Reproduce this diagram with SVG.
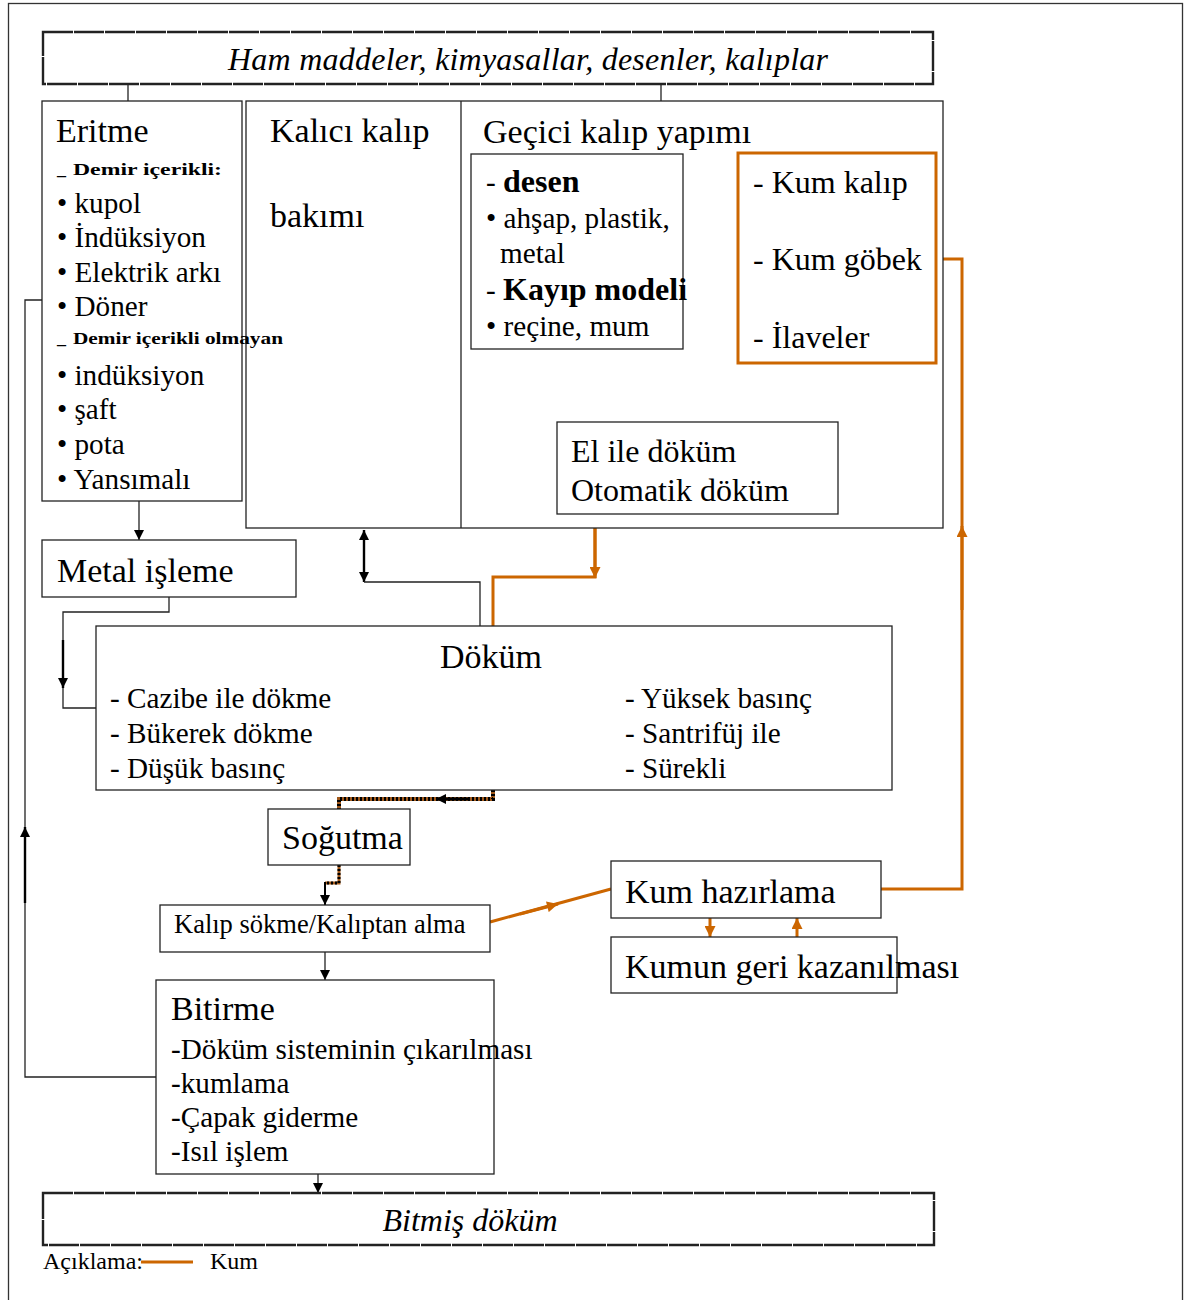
<svg xmlns="http://www.w3.org/2000/svg" width="1185" height="1300" viewBox="0 0 1185 1300">
<defs>
<style>
text{font-family:"Liberation Serif","Times New Roman",serif;fill:#000}
.box{fill:#fff;stroke:#222;stroke-width:1.3}
.ban{fill:#fff;stroke:#222;stroke-width:2.4;stroke-dasharray:30 1}
.ln{fill:none;stroke:#222;stroke-width:1.3}
.thk{fill:none;stroke:#000;stroke-width:2.4}
.or{fill:none;stroke:#CC6600;stroke-width:3}
.t34{font-size:34px}
.t32{font-size:32px}
.t29{font-size:29.2px}
.b{font-weight:bold}
.it{font-style:italic}
</style>
<marker id="ah" viewBox="0 0 10 10" refX="10" refY="5" markerWidth="11" markerHeight="10" markerUnits="userSpaceOnUse" orient="auto-start-reverse"><path d="M0,0 L10,5 L0,10 z" fill="#000"/></marker>
<marker id="ao" viewBox="0 0 10 10" refX="10" refY="5" markerWidth="12" markerHeight="11" markerUnits="userSpaceOnUse" orient="auto-start-reverse"><path d="M0,0 L10,5 L0,10 z" fill="#CC6600"/></marker>
</defs>
<rect x="8.5" y="3.5" width="1174" height="1310" fill="#fff" stroke="#333" stroke-width="1.3"/>

<g id="connectors">
  <line class="ln" x1="128" y1="84" x2="128" y2="101"/>
  <line class="ln" x1="661" y1="84" x2="661" y2="101"/>
  <line class="ln" x1="139" y1="501" x2="139" y2="540" marker-end="url(#ah)"/>
  <polyline class="ln" points="577,349 577,385 698,385 698,422"/>
  <line class="thk" x1="612" y1="385" x2="656" y2="385" marker-end="url(#ah)"/>
  <polyline class="or" points="837,363 837,392 698,392 698,422"/>
  <line class="or" x1="780" y1="392" x2="738" y2="392" stroke-width="3.5" marker-end="url(#ao)"/>
  <polyline class="or" points="595,528 595,577 493,577 493,626"/>
  <line class="or" x1="595" y1="528" x2="595" y2="578" stroke-width="3.5" marker-end="url(#ao)"/>
  <line class="thk" x1="364" y1="530" x2="364" y2="582" stroke-width="1.8" marker-start="url(#ah)" marker-end="url(#ah)"/>
  <polyline class="ln" points="364,582 480,582 480,626"/>
  <polyline class="ln" points="169,597 169,612 63,612 63,708 96,708"/>
  <line class="thk" x1="63" y1="640" x2="63" y2="688" marker-end="url(#ah)"/>
  <polyline class="ln" points="156,1077 25,1077 25,300 42,300"/>
  <line class="thk" x1="25" y1="903" x2="25" y2="827" marker-end="url(#ah)"/>
  <polyline points="493,790 493,799 339,799 339,809" fill="none" stroke="#A0581A" stroke-width="4"/>
  <polyline points="493,790 493,799 339,799 339,809" fill="none" stroke="#000" stroke-width="4" stroke-dasharray="2 2"/>
  <line x1="470" y1="799" x2="436" y2="799" stroke="#000" stroke-width="3" marker-end="url(#ah)"/>
  <polyline points="339,865 339,883 325,883" fill="none" stroke="#A0581A" stroke-width="3"/>
  <polyline points="339,865 339,883 325,883" fill="none" stroke="#000" stroke-width="3" stroke-dasharray="2 2"/>
  <line x1="325" y1="882" x2="325" y2="905" stroke="#000" stroke-width="2" marker-end="url(#ah)"/>
  <line class="ln" x1="325" y1="952" x2="325" y2="980" stroke-width="1.8" marker-end="url(#ah)"/>
  <line class="ln" x1="318" y1="1174" x2="318" y2="1193" stroke-width="1.8" marker-end="url(#ah)"/>
  <line class="or" x1="490" y1="922" x2="611" y2="889"/>
  <line class="or" x1="520" y1="914" x2="558" y2="904" stroke-width="4" marker-end="url(#ao)"/>
  <polyline class="or" points="881,889 962,889 962,259 936,259"/>
  <line class="or" x1="962" y1="610" x2="962" y2="526" stroke-width="3.5" marker-end="url(#ao)"/>
  <line class="or" x1="710" y1="918" x2="710" y2="937" stroke-width="4" marker-end="url(#ao)"/>
  <line class="or" x1="797" y1="937" x2="797" y2="918" stroke-width="4" marker-end="url(#ao)"/>
</g>

<g id="ham-maddeler">
  <rect class="ban" x="43" y="32" width="890" height="52"/>
  <text class="it" x="528" y="70" font-size="32" text-anchor="middle" textLength="600">Ham maddeler, kimyasallar, desenler, kalıplar</text>
</g>

<g id="kalip">
  <rect class="box" x="246" y="101" width="697" height="427"/>
  <line class="ln" x1="461" y1="101" x2="461" y2="528"/>
  <text class="t34" x="270" y="142">Kalıcı kalıp</text>
  <text class="t34" x="270" y="227">bakımı</text>
  <text class="t34" x="483" y="143">Geçici kalıp yapımı</text>
</g>

<g id="eritme">
  <rect class="box" x="42" y="101" width="200" height="400"/>
  <text class="t34" x="56" y="142">Eritme</text>
  <text x="57" y="175" font-size="18" class="b">_</text>
  <text x="73" y="175" font-size="17" class="b" textLength="149" lengthAdjust="spacingAndGlyphs">Demir içerikli:</text>
  <text class="t29" x="57" y="213">• kupol</text>
  <text class="t29" x="57" y="247">• İndüksiyon</text>
  <text class="t29" x="57" y="282">• Elektrik arkı</text>
  <text class="t29" x="57" y="316">• Döner</text>
  <text x="57" y="344" font-size="18" class="b">_</text>
  <text x="73" y="344" font-size="17" class="b" textLength="210" lengthAdjust="spacingAndGlyphs">Demir içerikli olmayan</text>
  <text class="t29" x="57" y="385">• indüksiyon</text>
  <text class="t29" x="57" y="419">• şaft</text>
  <text class="t29" x="57" y="454">• pota</text>
  <text class="t29" x="57" y="489">• Yansımalı</text>
</g>

<g id="desen">
  <rect class="box" x="471" y="154" width="212" height="195"/>
  <text class="t29" x="486" y="192">- <tspan class="b" font-size="32">desen</tspan></text>
  <text class="t29" x="486" y="228">• ahşap, plastik,</text>
  <text class="t29" x="500" y="263">metal</text>
  <text class="t29" x="486" y="300">- <tspan class="b" font-size="32">Kayıp modeli</tspan></text>
  <text class="t29" x="486" y="336">• reçine, mum</text>
</g>

<g id="kum-kalip">
  <rect x="738" y="153" width="198" height="210" fill="none" stroke="#CC6600" stroke-width="3"/>
  <text class="t32" x="753" y="193">- Kum kalıp</text>
  <text class="t32" x="753" y="270">- Kum göbek</text>
  <text class="t32" x="753" y="348">- İlaveler</text>
</g>

<g id="el-ile">
  <rect class="box" x="557" y="422" width="281" height="92"/>
  <text class="t32" x="571" y="462">El ile döküm</text>
  <text class="t32" x="571" y="501">Otomatik döküm</text>
</g>

<g id="metal-isleme">
  <rect class="box" x="42" y="540" width="254" height="57"/>
  <text class="t34" x="57" y="582">Metal işleme</text>
</g>

<g id="dokum">
  <rect class="box" x="96" y="626" width="796" height="164"/>
  <text class="t34" x="491" y="668" text-anchor="middle">Döküm</text>
  <text class="t29" x="110" y="708">- Cazibe ile dökme</text>
  <text class="t29" x="110" y="743">- Bükerek dökme</text>
  <text class="t29" x="110" y="778">- Düşük basınç</text>
  <text class="t29" x="625" y="708">- Yüksek basınç</text>
  <text class="t29" x="625" y="743">- Santrifüj ile</text>
  <text class="t29" x="625" y="778">- Sürekli</text>
</g>

<g id="sogutma">
  <rect class="box" x="268" y="809" width="142" height="56"/>
  <text class="t34" x="282" y="849">Soğutma</text>
</g>

<g id="kalip-sokme">
  <rect class="box" x="160" y="905" width="330" height="47"/>
  <text x="174" y="933" font-size="26.5">Kalıp sökme/Kalıptan alma</text>
</g>

<g id="kum-hazirlama">
  <rect class="box" x="611" y="861" width="270" height="57"/>
  <text class="t34" x="625" y="903">Kum hazırlama</text>
</g>

<g id="kumun-geri">
  <rect class="box" x="611" y="937" width="286" height="56"/>
  <text class="t34" x="625" y="978">Kumun geri kazanılması</text>
</g>

<g id="bitirme">
  <rect class="box" x="156" y="980" width="338" height="194"/>
  <text class="t34" x="171" y="1020">Bitirme</text>
  <text class="t29" x="171" y="1059">-Döküm sisteminin çıkarılması</text>
  <text class="t29" x="171" y="1093">-kumlama</text>
  <text class="t29" x="171" y="1127">-Çapak giderme</text>
  <text class="t29" x="171" y="1161">-Isıl işlem</text>
</g>

<g id="bitmis-dokum">
  <rect class="ban" x="43" y="1193" width="891" height="52"/>
  <text class="it" x="470" y="1231" font-size="32" text-anchor="middle">Bitmiş döküm</text>
</g>

<g id="legend">
  <text x="43" y="1269" font-size="24">Açıklama:</text>
  <line x1="141" y1="1262" x2="193" y2="1262" stroke="#CC6600" stroke-width="3"/>
  <text x="210" y="1269" font-size="24">Kum</text>
</g>
</svg>
